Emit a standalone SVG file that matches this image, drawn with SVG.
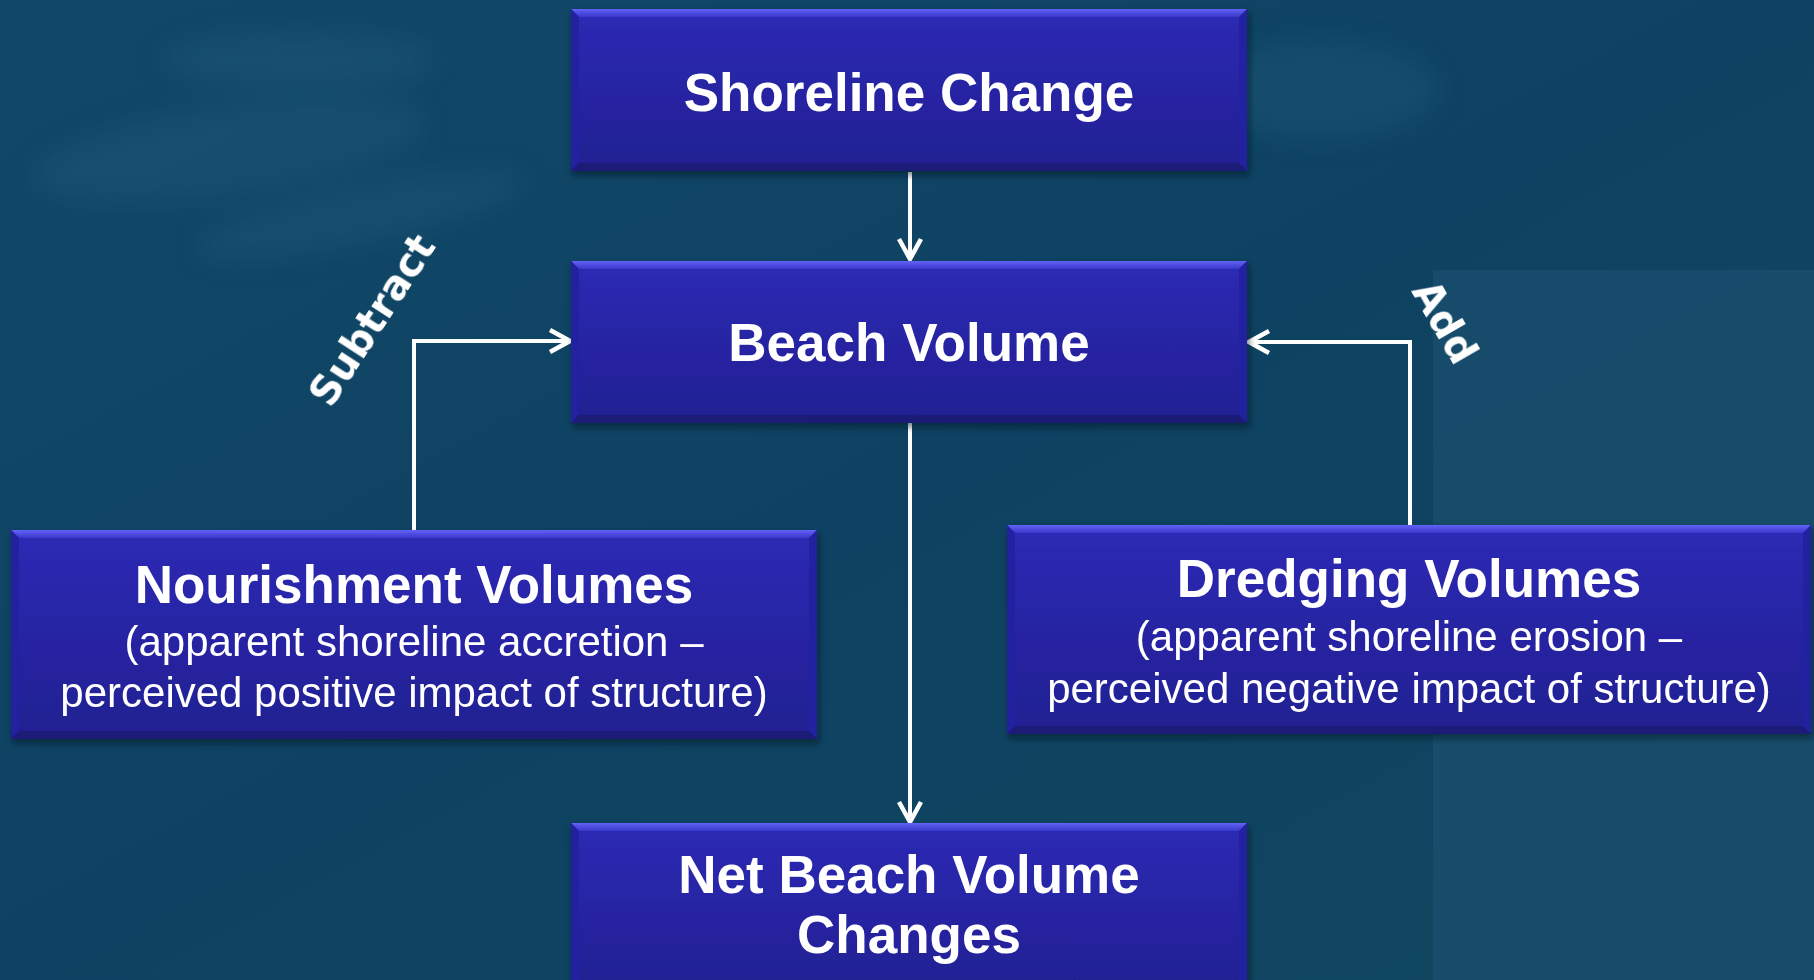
<svg xmlns="http://www.w3.org/2000/svg" width="1814" height="980" viewBox="0 0 1814 980">
  <defs>
    <style>
      .title { font-family: "Liberation Sans", Arial, sans-serif; font-weight: bold; font-size: 53px; fill: #ffffff; text-anchor: middle; }
      .sub { font-family: "Liberation Sans", Arial, sans-serif; font-size: 42px; fill: #ffffff; text-anchor: middle; }
      .lbl { font-family: "DejaVu Sans", sans-serif; font-weight: bold; font-size: 40px; fill: #ffffff; text-anchor: middle; }
      .conn { fill: none; stroke: #ffffff; stroke-width: 4; }
      .body { fill: url(#boxGrad); }
      .bevTop { fill: url(#bevTopGrad); }
      .bevBot { fill: #1c1a78; }
      .bevSide { fill: #2422a0; }
    </style>
    <linearGradient id="bgGrad" x1="0" y1="0" x2="1" y2="1">
      <stop offset="0" stop-color="#114868"/>
      <stop offset="0.5" stop-color="#0e4262"/>
      <stop offset="1" stop-color="#10475f"/>
    </linearGradient>
    <linearGradient id="boxGrad" x1="0" y1="0" x2="0" y2="1">
      <stop offset="0" stop-color="#2c2ab5"/>
      <stop offset="1" stop-color="#221f92"/>
    </linearGradient>
    <linearGradient id="bevTopGrad" x1="0" y1="0" x2="0" y2="1">
      <stop offset="0" stop-color="#6262f4"/>
      <stop offset="1" stop-color="#3a38cc"/>
    </linearGradient>
    <filter id="shadow" x="-5%" y="-10%" width="110%" height="125%">
      <feDropShadow dx="2" dy="4" stdDeviation="3" flood-color="#000820" flood-opacity="0.55"/>
    </filter>
    <filter id="blur" x="-20%" y="-20%" width="140%" height="140%">
      <feGaussianBlur stdDeviation="14"/>
    </filter>
    <marker id="arrow" viewBox="0 0 26 26" refX="23" refY="13" markerWidth="26" markerHeight="26" markerUnits="userSpaceOnUse" orient="auto">
      <path d="M3,2 L23,13 L3,24" fill="none" stroke="#ffffff" stroke-width="4.5"/>
    </marker>
  </defs>

  <!-- background -->
  <rect x="0" y="0" width="1814" height="980" fill="url(#bgGrad)"/>
  <g opacity="0.18" filter="url(#blur)">
    <ellipse cx="230" cy="150" rx="200" ry="45" fill="#3a7898" transform="rotate(-8 230 150)"/>
    <ellipse cx="360" cy="215" rx="170" ry="30" fill="#3a7898" transform="rotate(-12 360 215)"/>
    <ellipse cx="300" cy="60" rx="140" ry="30" fill="#3a7898"/>
    <ellipse cx="1320" cy="90" rx="120" ry="50" fill="#3a7898"/>
  </g>
  <rect x="1433" y="270" width="381" height="710" fill="#1d5272" opacity="0.6"/>

  <!-- connectors -->
  <g id="connectors">
    <line class="conn" x1="910" y1="172" x2="910" y2="259" marker-end="url(#arrow)"/>
    <line class="conn" x1="910" y1="423" x2="910" y2="822" marker-end="url(#arrow)"/>
    <path class="conn" d="M414,530 V341 H570" marker-end="url(#arrow)"/>
    <path class="conn" d="M1410,525 V342 H1249" marker-end="url(#arrow)"/>
    <text class="lbl" transform="translate(372,320) rotate(-57)" x="0" y="14">Subtract</text>
    <text class="lbl" transform="translate(1445,322) rotate(60)" x="0" y="14">Add</text>
  </g>

  <!-- Shoreline Change -->
  <g id="shoreline-change" filter="url(#shadow)">
    <rect class="body" x="571" y="9" width="676" height="162"/>
    <polygon class="bevTop" points="571,9 1247,9 1239,17 579,17"/>
    <polygon class="bevSide" points="571,9 579,17 579,163 571,171"/>
    <polygon class="bevSide" points="1247,9 1239,17 1239,163 1247,171"/>
    <polygon class="bevBot" points="571,171 579,163 1239,163 1247,171"/>
    <text class="title" x="909" y="111">Shoreline Change</text>
  </g>

  <!-- Beach Volume -->
  <g id="beach-volume" filter="url(#shadow)">
    <rect class="body" x="571" y="261" width="676" height="162"/>
    <polygon class="bevTop" points="571,261 1247,261 1239,269 579,269"/>
    <polygon class="bevSide" points="571,261 579,269 579,415 571,423"/>
    <polygon class="bevSide" points="1247,261 1239,269 1239,415 1247,423"/>
    <polygon class="bevBot" points="571,423 579,415 1239,415 1247,423"/>
    <text class="title" x="909" y="361">Beach Volume</text>
  </g>

  <!-- Nourishment Volumes -->
  <g id="nourishment-volumes" filter="url(#shadow)">
    <rect class="body" x="11" y="530" width="806" height="209"/>
    <polygon class="bevTop" points="11,530 817,530 809,538 19,538"/>
    <polygon class="bevSide" points="11,530 19,538 19,731 11,739"/>
    <polygon class="bevSide" points="817,530 809,538 809,731 817,739"/>
    <polygon class="bevBot" points="11,739 19,731 809,731 817,739"/>
    <text class="title" x="414" y="603">Nourishment Volumes</text>
    <text class="sub" x="414" y="656">(apparent shoreline accretion –</text>
    <text class="sub" x="414" y="707">perceived positive impact of structure)</text>
  </g>

  <!-- Dredging Volumes -->
  <g id="dredging-volumes" filter="url(#shadow)">
    <rect class="body" x="1007" y="525" width="804" height="209"/>
    <polygon class="bevTop" points="1007,525 1811,525 1803,533 1015,533"/>
    <polygon class="bevSide" points="1007,525 1015,533 1015,726 1007,734"/>
    <polygon class="bevSide" points="1811,525 1803,533 1803,726 1811,734"/>
    <polygon class="bevBot" points="1007,734 1015,726 1803,726 1811,734"/>
    <text class="title" x="1409" y="597">Dredging Volumes</text>
    <text class="sub" x="1409" y="651">(apparent shoreline erosion –</text>
    <text class="sub" x="1409" y="703">perceived negative impact of structure)</text>
  </g>

  <!-- Net Beach Volume Changes -->
  <g id="net-beach-volume-changes" filter="url(#shadow)">
    <rect class="body" x="571" y="823" width="676" height="170"/>
    <polygon class="bevTop" points="571,823 1247,823 1239,831 579,831"/>
    <polygon class="bevSide" points="571,823 579,831 579,993 571,993"/>
    <polygon class="bevSide" points="1247,823 1239,831 1239,993 1247,993"/>
    <text class="title" x="909" y="893">Net Beach Volume</text>
    <text class="title" x="909" y="953">Changes</text>
  </g>
</svg>
